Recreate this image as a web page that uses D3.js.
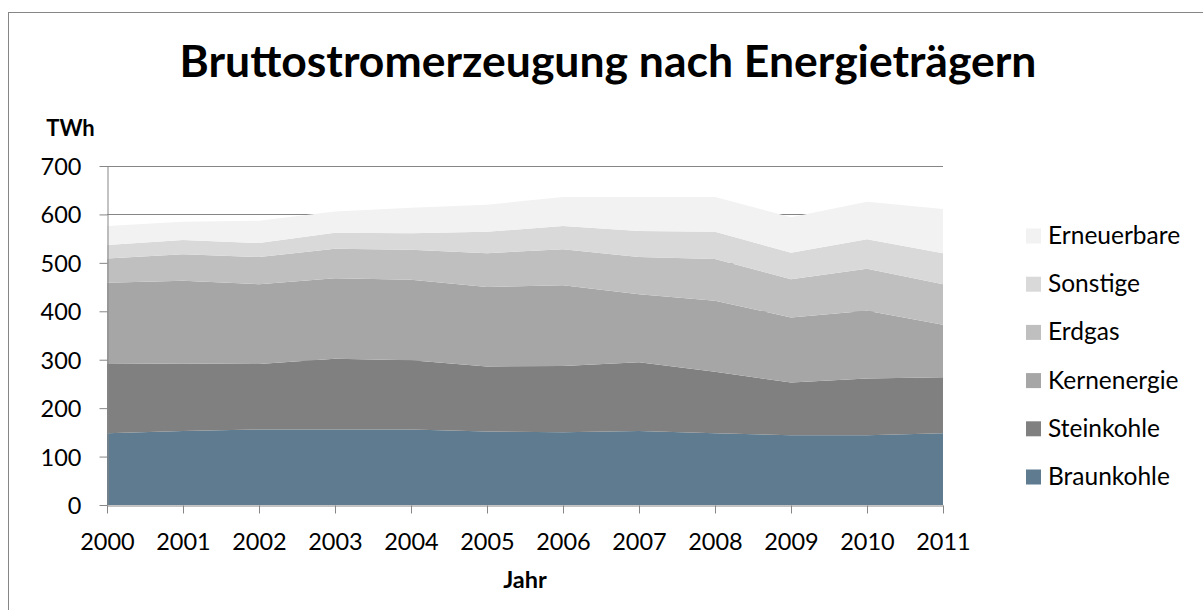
<!DOCTYPE html>
<html>
<head>
<meta charset="utf-8">
<script src="https://cdn.jsdelivr.net/npm/d3@7"></script>
<style>
  body { margin: 0; background: #fff; }
  svg { display: block; }
  text { font-family: Lato, "Open Sans", sans-serif; fill: #000; }
</style>
</head>
<body>
<svg id="chart" width="1203" height="610"></svg>
<script>
// Jahre und Werte in TWh
var years = [2000, 2001, 2002, 2003, 2004, 2005, 2006, 2007, 2008, 2009, 2010, 2011];
var braunkohle  = [148, 153, 156, 156, 156, 152, 150, 153, 148, 144, 144, 148];
var steinkohle  = [143, 139, 135, 146, 143, 134, 137, 142, 127, 109, 117, 116];
var kernenergie = [168, 171, 165, 166, 166, 164, 167, 140, 147, 134, 140, 108];
var erdgas      = [50, 55, 56, 61, 62, 70, 74, 77, 86, 79, 87, 84];
var sonstige    = [28, 29, 29, 33, 34, 44, 48, 54, 56, 55, 61, 64];
var erneuerbare = [39, 38, 46, 44, 53, 56, 60, 70, 72, 73, 77, 91];

var seriesNames = ["Braunkohle", "Steinkohle", "Kernenergie", "Erdgas", "Sonstige", "Erneuerbare"];
var seriesValues = [braunkohle, steinkohle, kernenergie, erdgas, sonstige, erneuerbare];
var seriesColors = ["#5e7b8f", "#808080", "#a6a6a6", "#bfbfbf", "#d9d9d9", "#f2f2f2"];
var yTicks = [0, 100, 200, 300, 400, 500, 600, 700];

var svg = d3.select("#chart");
var AXIS = "#868686";

// Rahmen
svg.append("rect")
    .attr("x", 8.5).attr("y", 12.5)
    .attr("width", 1210).attr("height", 620)
    .attr("fill", "none")
    .attr("stroke", AXIS)
    .attr("stroke-width", 1);

var x = d3.scaleLinear().domain([2000, 2011]).range([107, 943]);
var y = d3.scaleLinear().domain([0, 700]).range([505, 166]);

// Tabelle fuer d3.stack
var table = years.map(function (yr, i) {
    var row = { year: yr };
    seriesNames.forEach(function (n, k) { row[n] = seriesValues[k][i]; });
    return row;
});

var stacked = d3.stack().keys(seriesNames)(table);

// Gitterlinien (liegen hinter den Flaechen)
svg.append("g").selectAll("line")
    .data(yTicks.slice(1))
    .join("line")
    .attr("x1", x(2000)).attr("x2", x(2011))
    .attr("y1", function (d) { return Math.round(y(d)) + 0.5; })
    .attr("y2", function (d) { return Math.round(y(d)) + 0.5; })
    .attr("stroke", AXIS)
    .attr("stroke-width", 1);

var area = d3.area()
    .x(function (d) { return x(d.data.year); })
    .y0(function (d) { return y(d[0]); })
    .y1(function (d) { return y(d[1]); });

svg.append("g").selectAll("path")
    .data(stacked)
    .join("path")
    .attr("d", area)
    .attr("fill", function (d, i) { return seriesColors[i]; });

// Achsen
var gx = svg.append("g")
    .attr("transform", "translate(0," + 505.5 + ")")
    .call(d3.axisBottom(x).tickValues(years).tickFormat(d3.format("d")).tickSize(8).tickSizeOuter(0));

var gy = svg.append("g")
    .attr("transform", "translate(" + 107.5 + ",0)")
    .call(d3.axisLeft(y).tickValues(yTicks).tickSize(8).tickSizeOuter(0));

[gx, gy].forEach(function (g) {
    g.select(".domain").attr("stroke", AXIS);
    g.selectAll(".tick line").attr("stroke", AXIS);
    g.selectAll("text")
        .attr("fill", "#000")
        .style("font-family", "Lato, 'Open Sans', sans-serif")
        .style("font-size", "23.5px");
});

gx.selectAll("text").attr("y", 44).attr("dy", 0);
gy.selectAll("text").attr("x", -26).attr("dy", "0.36em");

// Titel
var title = svg.append("text")
    .attr("x", 608)
    .attr("y", 77)
    .attr("text-anchor", "middle")
    .style("font-weight", "bold")
    .style("font-size", "40px")
    .text("Bruttostromerzeugung nach Energieträgern");

var tw = title.node().getComputedTextLength();
title.style("font-size", (40 * 857 / tw).toFixed(2) + "px");

svg.append("text")
    .attr("x", 70.5).attr("y", 136)
    .attr("text-anchor", "middle")
    .style("font-weight", "bold")
    .style("font-size", "22px")
    .text("TWh");

svg.append("text")
    .attr("x", 525).attr("y", 588)
    .attr("text-anchor", "middle")
    .style("font-weight", "bold")
    .style("font-size", "23.5px")
    .text("Jahr");

// Legende (oben: Erneuerbare)
var legendItems = seriesNames.map(function (n, i) { return { name: n, color: seriesColors[i] }; }).reverse();

var legend = svg.append("g").selectAll("g")
    .data(legendItems)
    .join("g")
    .attr("transform", function (d, i) { return "translate(1026," + (236 + i * 48.2) + ")"; });

legend.append("rect")
    .attr("x", 0).attr("y", -7.5)
    .attr("width", 15).attr("height", 15)
    .attr("fill", function (d) { return d.color; });

legend.append("text")
    .attr("x", 22).attr("y", 8)
    .style("font-size", "24.5px")
    .text(function (d) { return d.name; });
</script>
</body>
</html>
